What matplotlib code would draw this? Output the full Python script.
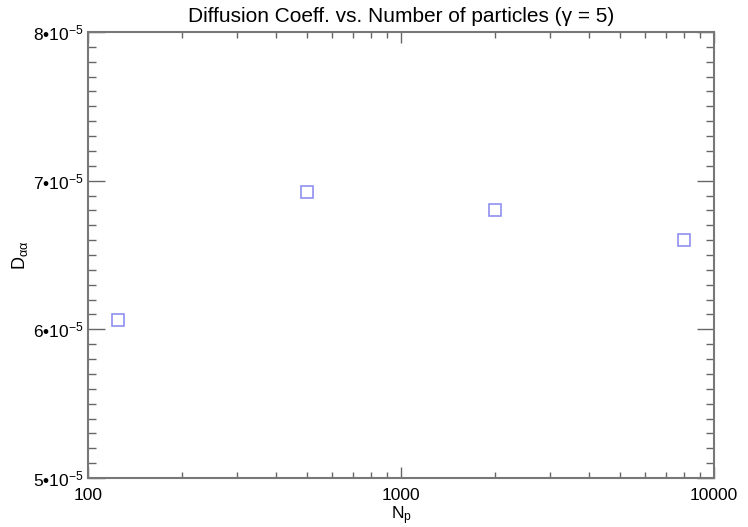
import matplotlib
matplotlib.use("Agg")
import matplotlib.pyplot as plt
from matplotlib.ticker import FixedLocator, FixedFormatter, LogLocator, NullFormatter, MultipleLocator

plt.rcParams['font.family'] = ['Liberation Sans', 'DejaVu Sans']
plt.rcParams['mathtext.fontset'] = 'custom'
plt.rcParams['mathtext.rm'] = 'Liberation Sans'
plt.rcParams['mathtext.it'] = 'Liberation Sans'

n_particles = [125, 500, 2000, 8000]
d_aa = [6.065e-5, 6.925e-5, 6.80e-5, 6.60e-5]

y_ticks = [5e-5, 6e-5, 7e-5, 8e-5]
y_labels = ['5•10$^{-5}$', '6•10$^{-5}$', '7•10$^{-5}$', '8•10$^{-5}$']
x_ticks = [100, 1000, 10000]
x_labels = ['100', '1000', '10000']

fig = plt.figure(figsize=(7.48, 5.27), dpi=100)
ax = fig.add_axes([88/748, 1-478/527, (714-88)/748, (478-32)/527])

ax.plot(n_particles, d_aa, linestyle='none', marker='s', markersize=9,
        markerfacecolor='none', markeredgecolor='#9090f0', markeredgewidth=1.2)

ax.set_xscale('log')
ax.set_xlim(100, 10000)
ax.set_ylim(5e-5, 8e-5)

ax.xaxis.set_major_locator(FixedLocator(x_ticks))
ax.xaxis.set_major_formatter(FixedFormatter(x_labels))
ax.xaxis.set_minor_locator(LogLocator(base=10, subs=range(2, 10)))
ax.xaxis.set_minor_formatter(NullFormatter())
ax.yaxis.set_major_locator(FixedLocator(y_ticks))
ax.yaxis.set_major_formatter(FixedFormatter(y_labels))
ax.yaxis.set_minor_locator(MultipleLocator(1e-6))

for s in ax.spines.values():
    s.set_color('#777777')
    s.set_linewidth(1.5)

ax.tick_params(which='both', direction='in', top=True, right=True, color='#666666',
               labelsize=12.5, labelcolor='black', width=1.0)
ax.tick_params(axis='y', which='major', length=12, pad=3)
ax.tick_params(axis='y', which='minor', length=6)
ax.tick_params(axis='x', which='major', length=8, pad=7)
ax.tick_params(axis='x', which='minor', length=4)

ax.set_title('Diffusion Coeff. vs. Number of particles (γ = 5)', fontsize=15, pad=7)
ax.set_xlabel('N$_{\\mathrm{p}}$', fontsize=12.5, labelpad=1)
ax.set_ylabel('D$_{αα}$', fontsize=13, labelpad=2)

fig.savefig('out.png', dpi=100)
